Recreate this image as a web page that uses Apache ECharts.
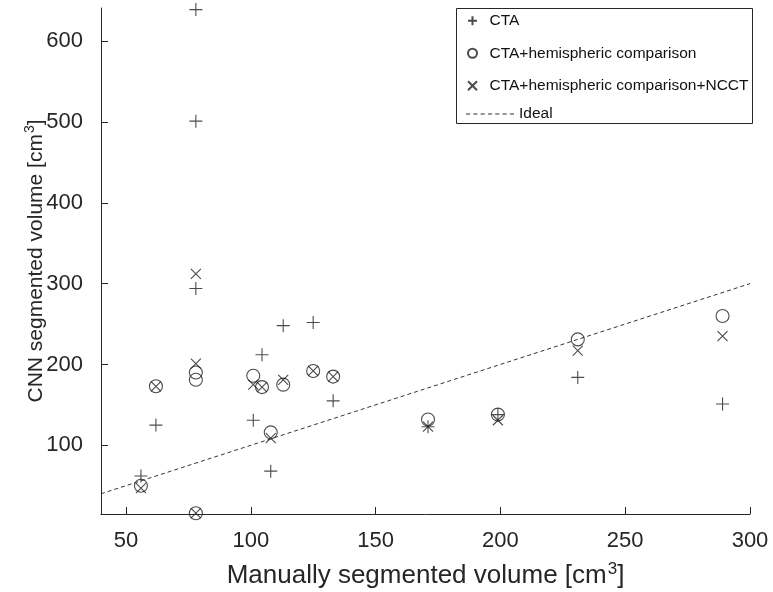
<!DOCTYPE html>
<html>
<head>
<meta charset="utf-8">
<script src="https://cdn.jsdelivr.net/npm/echarts@6/dist/echarts.min.js"></script>
<style>html,body{margin:0;padding:0;background:#fff}#c{width:773px;height:592px}</style>
</head>
<body>
<div id="c"></div>
<script>
// Data
const ctaX = [56, 62, 78, 78, 78, 101, 104.5, 108, 113, 125, 133, 171, 199, 231, 289];
const ctaY = [62, 125, 639, 501, 294, 131, 212, 68, 248, 252, 155, 123, 138, 184, 151];
const hemX = [56, 62, 78, 78, 78, 101, 104.5, 108, 113, 125, 133, 171, 199, 231, 289];
const hemY = [50, 173, 190, 181, 16, 186, 172, 116, 175, 192, 185, 132, 138, 231, 260];
const ncctX = [56, 62, 78, 78, 78, 101, 104.5, 108, 113, 125, 133, 171, 199, 231, 289];
const ncctY = [47, 173, 312, 201, 16, 175, 172, 109, 181, 192, 185, 123, 131, 217, 235];
const idealX = [40, 300];
const xTicks = [50, 100, 150, 200, 250, 300];
const yTicks = [100, 200, 300, 400, 500, 600];
const seriesNames = ['CTA', 'CTA+hemispheric comparison', 'CTA+hemispheric comparison+NCCT', 'Ideal'];

const zip = (xs, ys) => xs.map((x, i) => [x, ys[i]]);
const ink = '#262626';
const font = 'Liberation Sans, Arial, Helvetica, sans-serif';
const markStyle = { color: 'transparent', borderColor: '#1e1e1e', borderWidth: 1.1 };
const dashIcon = 'path://M0,0h4v1h-4zM7,0h4v1h-4zM14,0h4v1h-4zM21,0h4v1h-4zM28,0h4v1h-4zM35,0h4v1h-4zM42,0h4v1h-4z';

const chart = echarts.init(document.getElementById('c'));
chart.setOption({
  animation: false,
  textStyle: { fontFamily: font },
  grid: { left: 101, right: 23, top: 8, bottom: 78, containLabel: false, outerBoundsMode: 'none' },
  xAxis: {
    type: 'value', min: 40, max: 300, splitNumber: 5,
    axisLine: { show: true, lineStyle: { color: ink, width: 1 } },
    axisTick: { show: true, inside: true, length: 7, lineStyle: { color: ink, width: 1 } },
    axisLabel: { showMinLabel: false, showMaxLabel: true, color: ink, fontSize: 22, margin: 16, fontFamily: font,
      formatter: v => (xTicks.indexOf(v) >= 0 ? String(v) : '') },
    splitLine: { show: false },
    name: '{a|Manually segmented volume [cm}{s|3}{a|]}',
    nameLocation: 'middle', nameGap: 47, nameMoveOverlap: false,
    nameTextStyle: {
      rich: {
        a: { fontSize: 26, color: ink, fontFamily: font, lineHeight: 30 },
        s: { fontSize: 17, color: ink, fontFamily: font, lineHeight: 30, padding: [0, 0, 14, 1] }
      }
    }
  },
  yAxis: {
    type: 'value', min: 15, max: 641, splitNumber: 6,
    axisLine: { show: true, lineStyle: { color: ink, width: 1 } },
    axisTick: { show: true, inside: true, length: 7, lineStyle: { color: ink, width: 1 } },
    axisLabel: { showMinLabel: false, showMaxLabel: false, color: ink, fontSize: 22, margin: 18, fontFamily: font,
      formatter: v => (yTicks.indexOf(v) >= 0 ? String(v) : '') },
    splitLine: { show: false },
    name: '{a|CNN segmented volume [cm}{s|3}{a|]}',
    nameLocation: 'middle', nameGap: 52, nameRotate: 90, nameMoveOverlap: false,
    nameTextStyle: {
      rich: {
        a: { fontSize: 21, color: ink, fontFamily: font, lineHeight: 26 },
        s: { fontSize: 14, color: ink, fontFamily: font, lineHeight: 26, padding: [0, 0, 12, 1] }
      }
    }
  },
  legend: [
    {
      data: seriesNames.slice(0, 3),
      orient: 'vertical', left: 462, top: 6,
      itemWidth: 10, itemHeight: 9, itemGap: 13,
      textStyle: { fontSize: 15.5, color: '#111', fontFamily: font, lineHeight: 19.5, padding: [0, 0, 0, 7] },
      selectedMode: false
    },
    {
      data: [{ name: seriesNames[3], icon: dashIcon }],
      orient: 'vertical', left: 461, top: 99,
      itemWidth: 48, itemHeight: 1.2,
      itemStyle: { color: '#333' },
      textStyle: { fontSize: 15.5, color: '#111', fontFamily: font, lineHeight: 20, padding: [0, 0, 0, 0] },
      selectedMode: false
    }
  ],
  graphic: [
    { type: 'rect', left: 456, top: 8, shape: { width: 296, height: 115 },
      style: { fill: 'transparent', stroke: ink, lineWidth: 1 }, z: 10 }
  ],
  series: [
    {
      name: seriesNames[0], type: 'scatter',
      symbol: 'path://M0,5L10,5M5,0L5,10', symbolSize: 13,
      itemStyle: markStyle,
      data: zip(ctaX, ctaY)
    },
    {
      name: seriesNames[1], type: 'scatter',
      symbol: 'circle', symbolSize: 13,
      itemStyle: markStyle,
      data: zip(hemX, hemY)
    },
    {
      name: seriesNames[2], type: 'scatter',
      symbol: 'path://M0,0L10,10M10,0L0,10', symbolSize: 10,
      itemStyle: markStyle,
      data: zip(ncctX, ncctY)
    },
    {
      name: seriesNames[3], type: 'line',
      symbol: 'none', silent: true,
      lineStyle: { color: '#333', width: 1, type: [4, 3] },
      itemStyle: { color: '#333' },
      data: zip(idealX, idealX)
    }
  ]
});
</script>
</body>
</html>
